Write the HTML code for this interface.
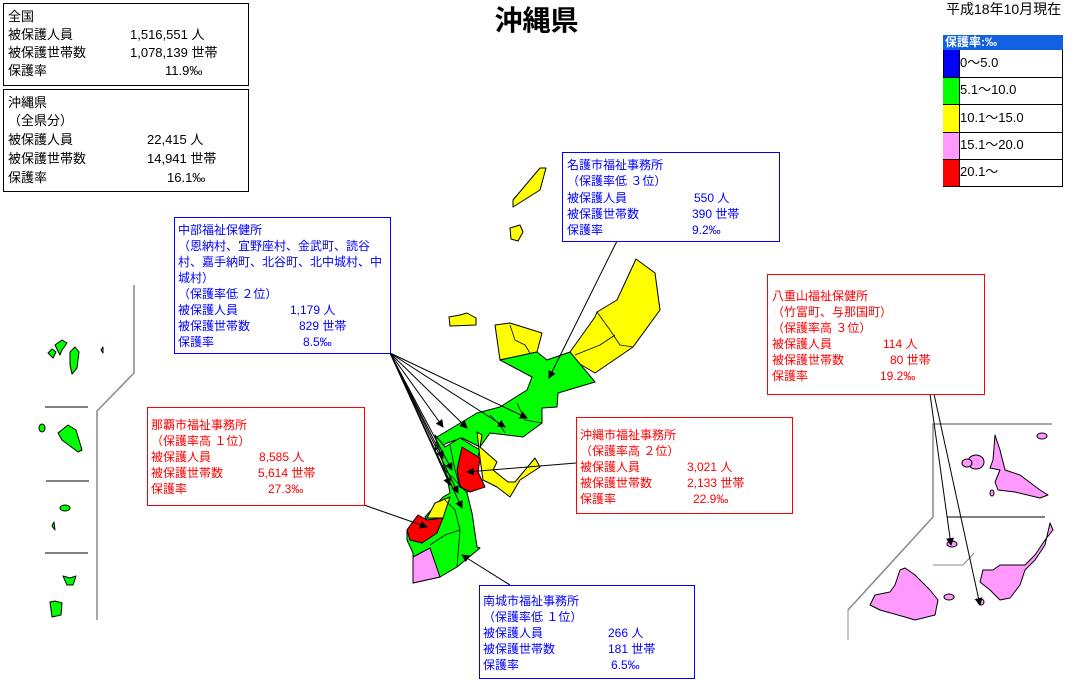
<!DOCTYPE html>
<html><head><meta charset="utf-8">
<style>
body{margin:0;width:1077px;height:681px;background:#fff;position:relative;overflow:hidden;font-family:"Liberation Sans","Noto Sans CJK JP",sans-serif;font-size:12px;}
.b{position:absolute;box-sizing:border-box;background:#fff;}
.t{position:absolute;white-space:nowrap;line-height:16px;}
.k{color:#000;font-size:13px;}
.bl{color:#0000ff}.rd{color:#ff0000}
svg{position:absolute;left:0;top:0}
</style></head><body>
<svg width="1077" height="681" viewBox="0 0 1077 681">
<defs><marker id="a" markerWidth="8" markerHeight="8" refX="7" refY="4" orient="auto" markerUnits="userSpaceOnUse"><path d="M0,0L8,4L0,8z" fill="#000"/></marker></defs>
<g stroke="#000" stroke-width="1" stroke-linejoin="round">
<polygon fill="#ffff00" points="636,259 655,273 660,310 633,347 595,373 573,360 570,352 595,317 597,312 617,300"/>
<polygon fill="#ffff00" points="495,325 510,323 542,333 537,352 500,360"/>
<polygon fill="#00ff00" points="500,360 537,352 547,360 570,352 595,382 558,393 557,407 542,408 542,423 523,437 490,433 480,447 462,438 447,443 435,450 437,437 477,413 500,407 527,390 532,377"/>
<polygon fill="#00ff00" points="435,435 445,447 460,438 480,450 467,493 472,513 477,547 480,548 457,567 440,577 413,583 413,553 407,540 407,530 418,515 427,520 425,517 443,497 450,493 447,477"/>
<polygon fill="#ffff00" points="477,432 482,435 480,447 497,462 493,470 508,482 515,482 535,458 540,467 520,480 510,497 497,487 483,480 480,458"/>
<polygon fill="#ff0000" points="462,447 480,458 478,472 485,487 470,492 460,487 457,470"/>
<polygon fill="#ffff00" points="427,518 435,503 450,497 443,518"/>
<polygon fill="#ff0000" points="418,515 427,520 443,518 437,533 422,543 410,540 407,530"/>
<polygon fill="#ff99ff" points="413,557 430,548 440,577 413,583"/>
<g fill="none" stroke-width="0.8">
<path d="M510,325 515,340 525,345 530,353"/><path d="M597,312 610,330 620,345 633,347"/><path d="M575,355 600,345 615,335"/>
<path d="M517,403 525,420 542,423"/><path d="M490,415 500,425 505,433"/><path d="M450,445 455,470 460,487"/>
<path d="M445,500 455,510 460,530 457,567"/><path d="M430,545 445,535 460,530"/><path d="M445,470 455,480 467,493"/>
</g>
<polygon fill="#ffff00" points="513,200 540,168 546,168 540,190 513,207"/>
<polygon fill="#ffff00" points="510,228 520,225 523,232 518,241 511,239"/>
<polygon fill="#ffff00" points="449,317 460,315 467,313 476,318 476,325 450,326"/>
<g fill="#00ff00">
<path d="M48,353 52,349 56,352 53,358z"/><path d="M55,345 62,340 67,343 62,350 60,355z"/><path d="M70,352 75,347 79,352 77,368 72,374 70,365z"/><path d="M101,350 103,347 103,353z"/>
<ellipse cx="42" cy="428" rx="3" ry="4"/><path d="M58,433 68,425 76,430 82,450 78,452 62,440z"/>
<ellipse cx="65" cy="508" rx="5" ry="3"/><path d="M52,526 54,522 55,530z"/>
<path d="M63,576 70,578 76,576 73,585 67,585z"/><path d="M50,602 55,601 62,603 61,615 52,617z"/>
</g>
<g fill="#ff99ff">
<path d="M995,435 1000,450 1005,470 1020,475 1040,490 1048,495 1040,498 1015,492 998,490 995,482 1000,470 990,468 993,460z"/>
<ellipse cx="976" cy="462" rx="8" ry="7"/><ellipse cx="967" cy="463" rx="5" ry="4"/><ellipse cx="1042" cy="436" rx="5" ry="3"/><ellipse cx="992" cy="493" rx="2" ry="3"/>
<path d="M1050,523 1053,530 1045,540 1035,555 1025,565 1000,565 993,570 983,570 980,582 990,590 1000,600 1010,598 1020,585 1025,570 1035,560 1045,545z"/>
<path d="M900,570 905,568 915,575 930,590 938,600 935,615 915,620 905,617 880,610 870,605 875,595 890,592 895,585z"/>
<ellipse cx="952" cy="544" rx="5" ry="3"/><ellipse cx="981" cy="602" rx="3" ry="3"/><ellipse cx="949" cy="597" rx="5" ry="3"/>
</g>
</g>
<g fill="none">
<path d="M134,285V373L97,411V620" stroke="#888" stroke-width="1.5"/>
<path d="M45,407H88M46,481H89M45,553H88" stroke="#000"/>
<path d="M1052,424H933V517L848,610" stroke="#888" stroke-width="1.5"/>
<path d="M947,517H1045" stroke="#000"/>
<path d="M933,565H963L974,553" stroke="#888"/>
<path d="M848,610V640" stroke="#888"/>
</g>
<g stroke="#000" stroke-width="1" marker-end="url(#a)">
<line x1="617" y1="241" x2="549" y2="378"/>
<line x1="390" y1="353" x2="527" y2="418"/>
<line x1="390" y1="353" x2="505" y2="427"/>
<line x1="390" y1="353" x2="467" y2="428"/>
<line x1="390" y1="353" x2="443" y2="427"/>
<line x1="390" y1="353" x2="443" y2="458"/>
<line x1="390" y1="353" x2="452" y2="470"/>
<line x1="390" y1="353" x2="450" y2="485"/>
<line x1="390" y1="353" x2="458" y2="493"/>
<line x1="390" y1="353" x2="462" y2="508"/>
<line x1="576" y1="463" x2="467" y2="472"/>
<line x1="364" y1="505" x2="427" y2="527"/>
<line x1="510" y1="585" x2="462" y2="555"/>
<line x1="930" y1="394" x2="951" y2="545"/>
<line x1="934" y1="394" x2="980" y2="605"/>
</g>
</svg>

<div class="t" style="left:-2px;width:1077px;text-align:center;top:3px;font-size:28px;line-height:36px;font-weight:bold">沖縄県</div>
<div class="t" style="left:946px;top:0px;font-size:14px;line-height:18px">平成18年10月現在</div>

<div class="b" style="left:3px;top:3px;width:246px;height:83px;border:1px solid #000"></div>
<div class="t k" style="left:8px;top:9px">全国</div>
<div class="t k" style="left:8px;top:27px">被保護人員</div><div class="t k" style="left:130px;top:27px">1,516,551 人</div>
<div class="t k" style="left:8px;top:45px">被保護世帯数</div><div class="t k" style="left:130px;top:45px">1,078,139 世帯</div>
<div class="t k" style="left:8px;top:63px">保護率</div><div class="t k" style="left:165px;top:63px">11.9‰</div>
<div class="b" style="left:3px;top:89px;width:246px;height:103px;border:1px solid #000"></div>
<div class="t k" style="left:8px;top:95px">沖縄県</div>
<div class="t k" style="left:8px;top:113px">（全県分）</div>
<div class="t k" style="left:8px;top:132px">被保護人員</div><div class="t k" style="left:147px;top:132px">22,415 人</div>
<div class="t k" style="left:8px;top:151px">被保護世帯数</div><div class="t k" style="left:147px;top:151px">14,941 世帯</div>
<div class="t k" style="left:8px;top:170px">保護率</div><div class="t k" style="left:167px;top:170px">16.1‰</div>

<div class="b" style="left:943px;top:35px;width:120px;height:15px;background:#1060e0;color:#fff;font-weight:bold;font-size:12px;line-height:15px;padding-left:2px">保護率:‰</div>
<div class="b" style="left:943px;top:50px;width:120px;height:137px;border:1px solid #000;border-top:0"></div>
<div class="b" style="left:943px;top:50px;width:16px;height:27px;background:#0000ff;border-left:1px solid #000"></div>
<div class="b" style="left:943px;top:77px;width:16px;height:28px;background:#00ff00"></div>
<div class="b" style="left:943px;top:105px;width:16px;height:27px;background:#ffff00"></div>
<div class="b" style="left:943px;top:132px;width:16px;height:27px;background:#ff99ff"></div>
<div class="b" style="left:943px;top:159px;width:16px;height:27px;background:#ff0000"></div>
<div class="b" style="left:959px;top:50px;width:1px;height:137px;background:#000"></div>
<div class="b" style="left:943px;top:77px;width:120px;height:1px;background:#000"></div>
<div class="b" style="left:943px;top:104px;width:120px;height:1px;background:#000"></div>
<div class="b" style="left:943px;top:132px;width:120px;height:1px;background:#000"></div>
<div class="b" style="left:943px;top:159px;width:120px;height:1px;background:#000"></div>
<div class="t" style="left:960px;top:55px;font-size:13px">0～5.0</div>
<div class="t" style="left:960px;top:82px;font-size:13px">5.1～10.0</div>
<div class="t" style="left:960px;top:110px;font-size:13px">10.1～15.0</div>
<div class="t" style="left:960px;top:137px;font-size:13px">15.1～20.0</div>
<div class="t" style="left:960px;top:164px;font-size:13px">20.1～</div>

<div class="b" style="left:562px;top:152px;width:218px;height:90px;border:1px solid #0000ff"></div>
<div class="t bl" style="left:567px;top:157px">名護市福祉事務所</div>
<div class="t bl" style="left:567px;top:173px">（保護率低 ３位）</div>
<div class="t bl" style="left:567px;top:190px">被保護人員</div><div class="t bl" style="left:694px;top:190px">550 人</div>
<div class="t bl" style="left:567px;top:206px">被保護世帯数</div><div class="t bl" style="left:692px;top:206px">390 世帯</div>
<div class="t bl" style="left:567px;top:222px">保護率</div><div class="t bl" style="left:692px;top:222px">9.2‰</div>

<div class="b" style="left:174px;top:217px;width:217px;height:137px;border:1px solid #0000ff"></div>
<div class="t bl" style="left:178px;top:222px">中部福祉保健所</div>
<div class="t bl" style="left:178px;top:238px">（恩納村、宜野座村、金武町、読谷</div>
<div class="t bl" style="left:178px;top:254px">村、嘉手納町、北谷町、北中城村、中</div>
<div class="t bl" style="left:178px;top:270px">城村）</div>
<div class="t bl" style="left:178px;top:286px">（保護率低 ２位）</div>
<div class="t bl" style="left:178px;top:302px">被保護人員</div><div class="t bl" style="left:290px;top:302px">1,179 人</div>
<div class="t bl" style="left:178px;top:318px">被保護世帯数</div><div class="t bl" style="left:299px;top:318px">829 世帯</div>
<div class="t bl" style="left:178px;top:334px">保護率</div><div class="t bl" style="left:303px;top:334px">8.5‰</div>

<div class="b" style="left:767px;top:274px;width:218px;height:121px;border:1px solid #ff0000"></div>
<div class="t rd" style="left:772px;top:288px">八重山福祉保健所</div>
<div class="t rd" style="left:772px;top:304px">（竹富町、与那国町）</div>
<div class="t rd" style="left:772px;top:320px">（保護率高 ３位）</div>
<div class="t rd" style="left:772px;top:336px">被保護人員</div><div class="t rd" style="left:883px;top:336px">114 人</div>
<div class="t rd" style="left:772px;top:352px">被保護世帯数</div><div class="t rd" style="left:890px;top:352px">80 世帯</div>
<div class="t rd" style="left:772px;top:368px">保護率</div><div class="t rd" style="left:880px;top:368px">19.2‰</div>

<div class="b" style="left:147px;top:407px;width:218px;height:99px;border:1px solid #ff0000"></div>
<div class="t rd" style="left:151px;top:417px">那覇市福祉事務所</div>
<div class="t rd" style="left:151px;top:433px">（保護率高 １位）</div>
<div class="t rd" style="left:151px;top:449px">被保護人員</div><div class="t rd" style="left:259px;top:449px">8,585 人</div>
<div class="t rd" style="left:151px;top:465px">被保護世帯数</div><div class="t rd" style="left:258px;top:465px">5,614 世帯</div>
<div class="t rd" style="left:151px;top:481px">保護率</div><div class="t rd" style="left:268px;top:481px">27.3‰</div>

<div class="b" style="left:576px;top:417px;width:217px;height:97px;border:1px solid #ff0000"></div>
<div class="t rd" style="left:580px;top:427px">沖縄市福祉事務所</div>
<div class="t rd" style="left:580px;top:443px">（保護率高 ２位）</div>
<div class="t rd" style="left:580px;top:459px">被保護人員</div><div class="t rd" style="left:687px;top:459px">3,021 人</div>
<div class="t rd" style="left:580px;top:475px">被保護世帯数</div><div class="t rd" style="left:687px;top:475px">2,133 世帯</div>
<div class="t rd" style="left:580px;top:491px">保護率</div><div class="t rd" style="left:693px;top:491px">22.9‰</div>

<div class="b" style="left:479px;top:585px;width:216px;height:94px;border:1px solid #0000ff"></div>
<div class="t bl" style="left:483px;top:593px">南城市福祉事務所</div>
<div class="t bl" style="left:483px;top:609px">（保護率低 １位）</div>
<div class="t bl" style="left:483px;top:625px">被保護人員</div><div class="t bl" style="left:608px;top:625px">266 人</div>
<div class="t bl" style="left:483px;top:641px">被保護世帯数</div><div class="t bl" style="left:608px;top:641px">181 世帯</div>
<div class="t bl" style="left:483px;top:657px">保護率</div><div class="t bl" style="left:611px;top:657px">6.5‰</div>
</body></html>
